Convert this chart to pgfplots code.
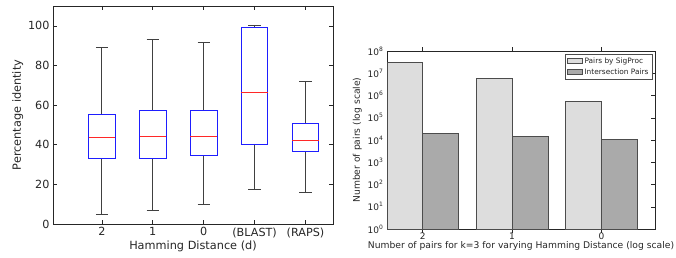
\documentclass[border=0pt]{standalone}
\usepackage{pgfplots}
\pgfplotsset{compat=1.18}
\usepgfplotslibrary{statistics}
\usepackage{fontspec}
\setmainfont{DejaVu Sans}
\definecolor{boxblue}{RGB}{30,30,255}
\definecolor{medred}{RGB}{255,40,40}
\definecolor{lightbar}{RGB}{221,221,221}
\definecolor{darkbar}{RGB}{170,170,170}
\begin{document}
\begin{tikzpicture}
\useasboundingbox (0,0) rectangle (676pt,257pt);
% ---------- Left: box plots ----------
\begin{axis}[
  at={(53pt,33pt)}, anchor=south west,
  scale only axis, width=280pt, height=218pt,
  xmin=0.04, xmax=5.54, ymin=0, ymax=110,
  xtick={1,2,3,4,5},
  xticklabels={2,1,0,(BLAST),(RAPS)},
  ytick={0,20,40,60,80,100},
  tick align=inside, tick pos=both,
  major tick length=4pt,
  axis line style={black!85, line width=0.7pt},
  every tick/.style={black!85, line width=0.6pt},
  /pgf/number format/assume math mode=true,
  tick label style={font=\fontsize{11.2}{13}\selectfont, text=black!85},
  label style={font=\fontsize{11.3}{13}\selectfont, text=black!85},
  xlabel={Hamming Distance (d)},
  ylabel={Percentage identity},
  xlabel style={yshift=3pt},
  ylabel style={yshift=-2pt},
  boxplot/draw direction=y,
  boxplot/every box/.style={draw=boxblue, line width=0.8pt},
  boxplot/every median/.style={draw=medred, line width=0.8pt},
  boxplot/every whisker/.style={draw=black!75, line width=0.8pt},
]
\addplot[boxplot prepared={draw position=1, median=43.75, upper quartile=55.4, lower quartile=33.1, upper whisker=89.0, lower whisker=4.7, box extend=0.52, whisker extend=0.24}] coordinates {};
\addplot[boxplot prepared={draw position=2, median=44.4, upper quartile=57.1, lower quartile=33.1, upper whisker=93.1, lower whisker=6.9, box extend=0.52, whisker extend=0.24}] coordinates {};
\addplot[boxplot prepared={draw position=3, median=44.4, upper quartile=57.1, lower quartile=34.5, upper whisker=91.6, lower whisker=10.0, box extend=0.52, whisker extend=0.24}] coordinates {};
\addplot[boxplot prepared={draw position=4, median=66.2, upper quartile=99.0, lower quartile=40.4, upper whisker=100.0, lower whisker=17.6, box extend=0.52, whisker extend=0.24}] coordinates {};
\addplot[boxplot prepared={draw position=5, median=42.4, upper quartile=50.8, lower quartile=36.7, upper whisker=72.0, lower whisker=15.9, box extend=0.52, whisker extend=0.24}] coordinates {};
\end{axis}
% ---------- Right: log bar chart ----------
\begin{axis}[
  at={(387pt,28pt)}, anchor=south west,
  scale only axis, width=268pt, height=178pt,
  ymode=log, log basis y=10,
  xmin=-0.4, xmax=2.6, ymin=1, ymax=1e8,
  xtick={0,1,2}, xticklabels={2,1,0},
  ytick={1,10,100,1000,10000,100000,1000000,10000000,100000000},
  yticklabels={10\textsuperscript{0},10\textsuperscript{1},10\textsuperscript{2},10\textsuperscript{3},10\textsuperscript{4},10\textsuperscript{5},10\textsuperscript{6},10\textsuperscript{7},10\textsuperscript{8}},
  yminorticks=false,
  tick align=inside, tick pos=both,
  major tick length=4pt,
  axis line style={black!85, line width=0.7pt},
  every tick/.style={black!85, line width=0.5pt},
  /pgf/number format/assume math mode=true,
  tick label style={font=\fontsize{9}{10.5}\selectfont, text=black!85},
  label style={font=\fontsize{9.2}{10.5}\selectfont, text=black!85},
  xticklabel style={yshift=3.5pt},
  xlabel={Number of pairs for k=3 for varying Hamming Distance (log scale)},
  ylabel={Number of pairs (log scale)},
  xlabel style={yshift=5pt},
  ylabel style={yshift=-1pt},
  ybar, bar width=0.4,
  legend style={at={(0.99,0.985)}, anchor=north east, font=\fontsize{7.4}{8.6}\selectfont, draw=black!70, line width=0.6pt, inner sep=1.5pt, row sep=0pt, cells={anchor=west}, text=black!85},
  legend image code/.code={\draw[#1] (0pt,-2.5pt) rectangle (15pt,2.5pt);},
]
\addplot[fill=lightbar, draw=black!70, line width=0.6pt, bar shift=-0.2] coordinates {(0,3.0e7) (1,5.7e6) (2,5.47e5)};
\addplot[fill=darkbar, draw=black!70, line width=0.6pt, bar shift=0.2] coordinates {(0,1.93e4) (1,1.51e4) (2,1.04e4)};
\legend{Pairs by SigProc, Intersection Pairs}
\end{axis}
\end{tikzpicture}
\end{document}
